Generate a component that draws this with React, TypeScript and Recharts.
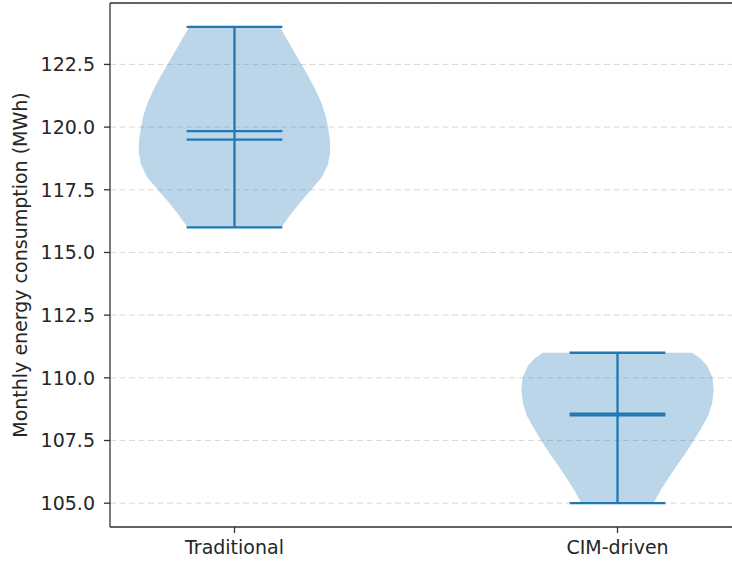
import React from 'react';
import {
  ScatterChart,
  Scatter,
  XAxis,
  YAxis,
  CartesianGrid,
  ReferenceLine,
} from 'recharts';

// ---- data ----
const categories = ['Traditional', 'CIM-driven'];
const positions = [1, 2];
const minimums = [116.0, 105.0];
const maximums = [124.0, 111.0];
const means = [119.84, 108.57];
const medians = [119.5, 108.5];

// violin outlines: value levels and KDE half-widths (in x units)
const traditionalLevels = [116.0, 116.5, 117.0, 117.5, 118.0, 118.5, 119.0, 119.5, 120.0, 120.5, 121.0, 121.5, 122.0, 122.5, 123.0, 123.5, 124.0];
const traditionalHalfWidths = [0.122, 0.146, 0.172, 0.2, 0.228, 0.244, 0.25, 0.249, 0.244, 0.237, 0.226, 0.211, 0.194, 0.175, 0.156, 0.137, 0.118];
const cimLevels = [105.0, 105.5, 106.0, 106.5, 107.0, 107.5, 108.0, 108.5, 109.0, 109.5, 110.0, 110.5, 110.75, 111.0];
const cimHalfWidths = [0.094, 0.112, 0.133, 0.155, 0.178, 0.199, 0.219, 0.237, 0.247, 0.251, 0.248, 0.233, 0.218, 0.195];

const yTicks = [105.0, 107.5, 110.0, 112.5, 115.0, 117.5, 120.0, 122.5];
const xDomain: [number, number] = [0.675, 2.325];
const yDomain: [number, number] = [104.05, 124.95];
const capHalf = 0.125;

const BLUE = '#1f77b4';
const FONT = 'DejaVu Sans, sans-serif';
const TEXT = '#262626';
const SPINE = '#333333';
const FS = 19;

const violinPolygon = (pos: number, levels: number[], hw: number[]) => {
  const right = levels.map((v, i) => ({ x: pos + hw[i], y: v }));
  const left = levels
    .map((v, i) => ({ x: pos - hw[i], y: v }))
    .reverse();
  return [...right, ...left];
};

const violins = [
  violinPolygon(positions[0], traditionalLevels, traditionalHalfWidths),
  violinPolygon(positions[1], cimLevels, cimHalfWidths),
];

const seg = (x1: number, y1: number, x2: number, y2: number) => [
  { x: x1, y: y1 },
  { x: x2, y: y2 },
];

const segments: { x: number; y: number }[][] = [];
positions.forEach((p, i) => {
  segments.push(seg(p, minimums[i], p, maximums[i]));
  segments.push(seg(p - capHalf, minimums[i], p + capHalf, minimums[i]));
  segments.push(seg(p - capHalf, maximums[i], p + capHalf, maximums[i]));
  segments.push(seg(p - capHalf, means[i], p + capHalf, means[i]));
  segments.push(seg(p - capHalf, medians[i], p + capHalf, medians[i]));
});

const NoDot = () => <g />;

const YLabel = (props: any) => {
  const vb = props.viewBox || {};
  const cy = vb.height ? vb.y + vb.height / 2 : 265;
  const cx = 20;
  return (
    <text
      x={cx}
      y={cy}
      transform={`rotate(-90 ${cx} ${cy})`}
      textAnchor="middle"
      dominantBaseline="central"
      fontFamily={FONT}
      fontSize={FS}
      fill={TEXT}
    >
      Monthly energy consumption (MWh)
    </text>
  );
};

export default function App() {
  return (
    <div
      style={{
        position: 'absolute',
        left: 0,
        top: 0,
        width: 732,
        height: 565,
        overflow: 'hidden',
        background: '#fff',
      }}
    >
      <ScatterChart
        width={742}
        height={565}
        margin={{ top: 3, right: 0, left: 0, bottom: 0 }}
      >
        <CartesianGrid
          horizontal={true}
          vertical={false}
          stroke="#d9d9d9"
          strokeDasharray="6 3.5"
          strokeWidth={1}
        />
        <XAxis
          type="number"
          dataKey="x"
          domain={xDomain}
          allowDataOverflow
          ticks={positions}
          tickFormatter={(v: number) => categories[positions.indexOf(v)] ?? ''}
          height={38}
          tickSize={6}
          tickMargin={8}
          axisLine={{ stroke: SPINE, strokeWidth: 1.3 }}
          tickLine={{ stroke: SPINE, strokeWidth: 1.3 }}
          tick={{ fontFamily: FONT, fontSize: FS, fill: TEXT }}
        />
        <YAxis
          type="number"
          dataKey="y"
          domain={yDomain}
          allowDataOverflow
          ticks={yTicks}
          tickFormatter={(v: number) => v.toFixed(1)}
          width={110}
          tickSize={6}
          tickMargin={9}
          axisLine={{ stroke: SPINE, strokeWidth: 1.3 }}
          tickLine={{ stroke: SPINE, strokeWidth: 1.3 }}
          tick={{ fontFamily: FONT, fontSize: FS, fill: TEXT }}
          label={<YLabel />}
        />
        <ReferenceLine y={yDomain[1]} stroke={SPINE} strokeWidth={1.6} ifOverflow="extendDomain" />
        {violins.map((pts, i) => (
          <Scatter
            key={`v${i}`}
            data={pts}
            shape={NoDot}
            isAnimationActive={false}
            legendType="none"
            line={{ fill: BLUE, fillOpacity: 0.3, stroke: 'none' }}
            lineJointType="linear"
          />
        ))}
        {segments.map((pts, i) => (
          <Scatter
            key={`s${i}`}
            data={pts}
            shape={NoDot}
            isAnimationActive={false}
            legendType="none"
            line={{ stroke: BLUE, strokeWidth: 2.3, fill: 'none' }}
            lineJointType="linear"
          />
        ))}
      </ScatterChart>
    </div>
  );
}
